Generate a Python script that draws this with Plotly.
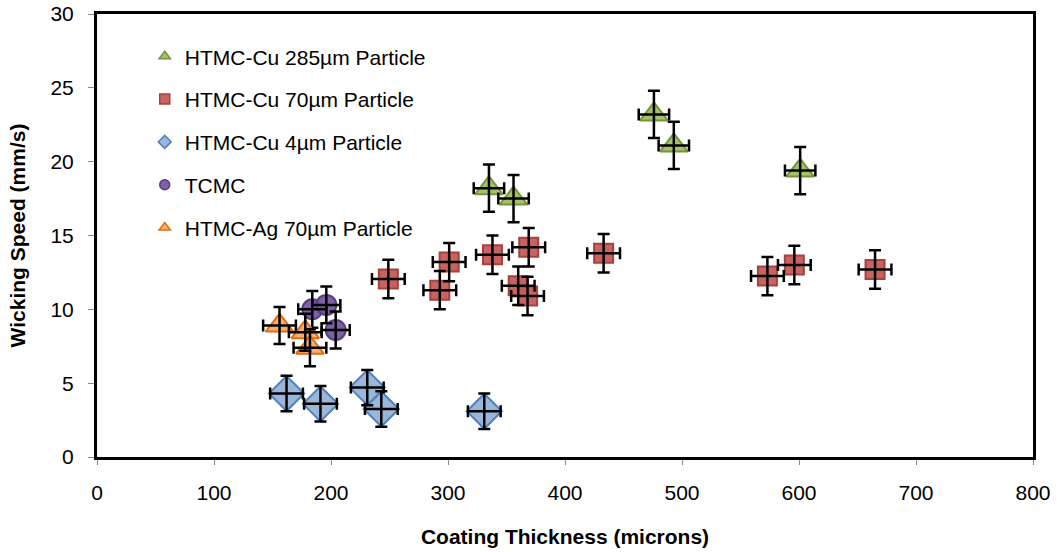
import plotly.graph_objects as go

# ---- data ----
cu285_x = [335, 356, 476, 493, 601]
cu285_y = [18.2, 17.5, 23.2, 21.1, 19.4]
cu285_ex = [13, 13, 13, 13, 13]
cu285_ey = [1.6, 1.6, 1.6, 1.6, 1.6]

cu70_x = [249, 293, 301, 338, 369, 360, 368, 433, 573, 596, 665]
cu70_y = [12.05, 11.3, 13.2, 13.7, 14.2, 11.6, 10.9, 13.8, 12.25, 13.0, 12.7]
cu70_ex = [14] * 11
cu70_ey = [1.3] * 11

cu4_x = [162, 191, 231, 243, 331]
cu4_y = [4.3, 3.6, 4.7, 3.25, 3.1]
cu4_ex = [14] * 5
cu4_ey = [1.2] * 5

tcmc_x = [184, 196, 204]
tcmc_y = [10.0, 10.3, 8.6]
tcmc_ex = [12] * 3
tcmc_ey = [1.25] * 3

ag70_x = [156, 178, 182]
ag70_y = [8.9, 8.45, 7.4]
ag70_ex = [14] * 3
ag70_ey = [1.25] * 3

series = [
    ("HTMC-Cu 285µm Particle", cu285_x, cu285_y, cu285_ex, cu285_ey,
     "triangle-up", "rgba(155,187,89,0.9)", "#77933C", 24),
    ("HTMC-Cu 70µm Particle", cu70_x, cu70_y, cu70_ex, cu70_ey,
     "square", "rgba(196,92,89,0.95)", "#A8403D", 19),
    ("HTMC-Cu 4µm Particle", cu4_x, cu4_y, cu4_ex, cu4_ey,
     "diamond", "rgba(149,179,215,0.95)", "#4F81BD", 27),
    ("TCMC", tcmc_x, tcmc_y, tcmc_ex, tcmc_ey,
     "circle", "rgba(120,86,160,0.95)", "#5A3F7A", 20),
    ("HTMC-Ag 70µm Particle", ag70_x, ag70_y, ag70_ex, ag70_ey,
     "triangle-up", "rgba(250,170,110,0.95)", "#E46C0A", 24),
]

fig = go.Figure()
for i, (name, xs, ys, ex, ey, sym, fill, line, size) in enumerate(series):
    fig.add_trace(go.Scatter(
        x=xs, y=ys, mode="markers", showlegend=False,
        marker=dict(symbol=sym, size=size, color=fill, line=dict(color=line, width=2)),
    ))
    # error bars drawn on top of markers
    fig.add_trace(go.Scatter(
        x=xs, y=ys, mode="markers", showlegend=False, hoverinfo="skip",
        marker=dict(size=1, color="rgba(0,0,0,0)"),
        error_x=dict(type="data", array=ex, color="black", thickness=2.5, width=6),
        error_y=dict(type="data", array=ey, color="black", thickness=2.5, width=6),
    ))
    # legend entry
    fig.add_trace(go.Scatter(
        x=[None], y=[None], mode="markers", name=name, legendgroup=name,
        marker=dict(symbol=sym, size=10, color=fill, line=dict(color=line, width=1.5)),
    ))

fig.update_layout(
    width=1060, height=552,
    margin=dict(l=97, r=27, t=14, b=95, autoexpand=False),
    paper_bgcolor="white", plot_bgcolor="white",
    font=dict(family="Liberation Sans, Arial, sans-serif", size=21, color="black"),
    legend=dict(x=0.051, y=0.95, xanchor="left", yanchor="top",
                bgcolor="rgba(0,0,0,0)", tracegroupgap=12.5,
                font=dict(size=21), itemwidth=30),
    xaxis=dict(range=[0, 800], dtick=100, showgrid=False, zeroline=False,
               showline=True, linecolor="black", linewidth=3, mirror=True,
               ticks="outside", ticklen=5, tickcolor="#888", automargin=False,
               ticklabelstandoff=10, ticklabeloverflow="allow",
               title=dict(text="<b>Coating Thickness (microns)</b>", font=dict(size=21), standoff=27)),
    yaxis=dict(range=[0, 30], dtick=5, showgrid=False, zeroline=False,
               showline=True, linecolor="black", linewidth=3, mirror=True,
               ticks="outside", ticklen=6, tickcolor="#888", automargin=False,
               ticklabelstandoff=10, ticklabeloverflow="allow",
               title=dict(text="<b>Wicking Speed (mm/s)</b>", font=dict(size=21), standoff=20)),
)

fig.write_html("out.html", config={"displayModeBar": False},
               post_script="document.body.style.margin='0';document.body.style.overflow='hidden';")
